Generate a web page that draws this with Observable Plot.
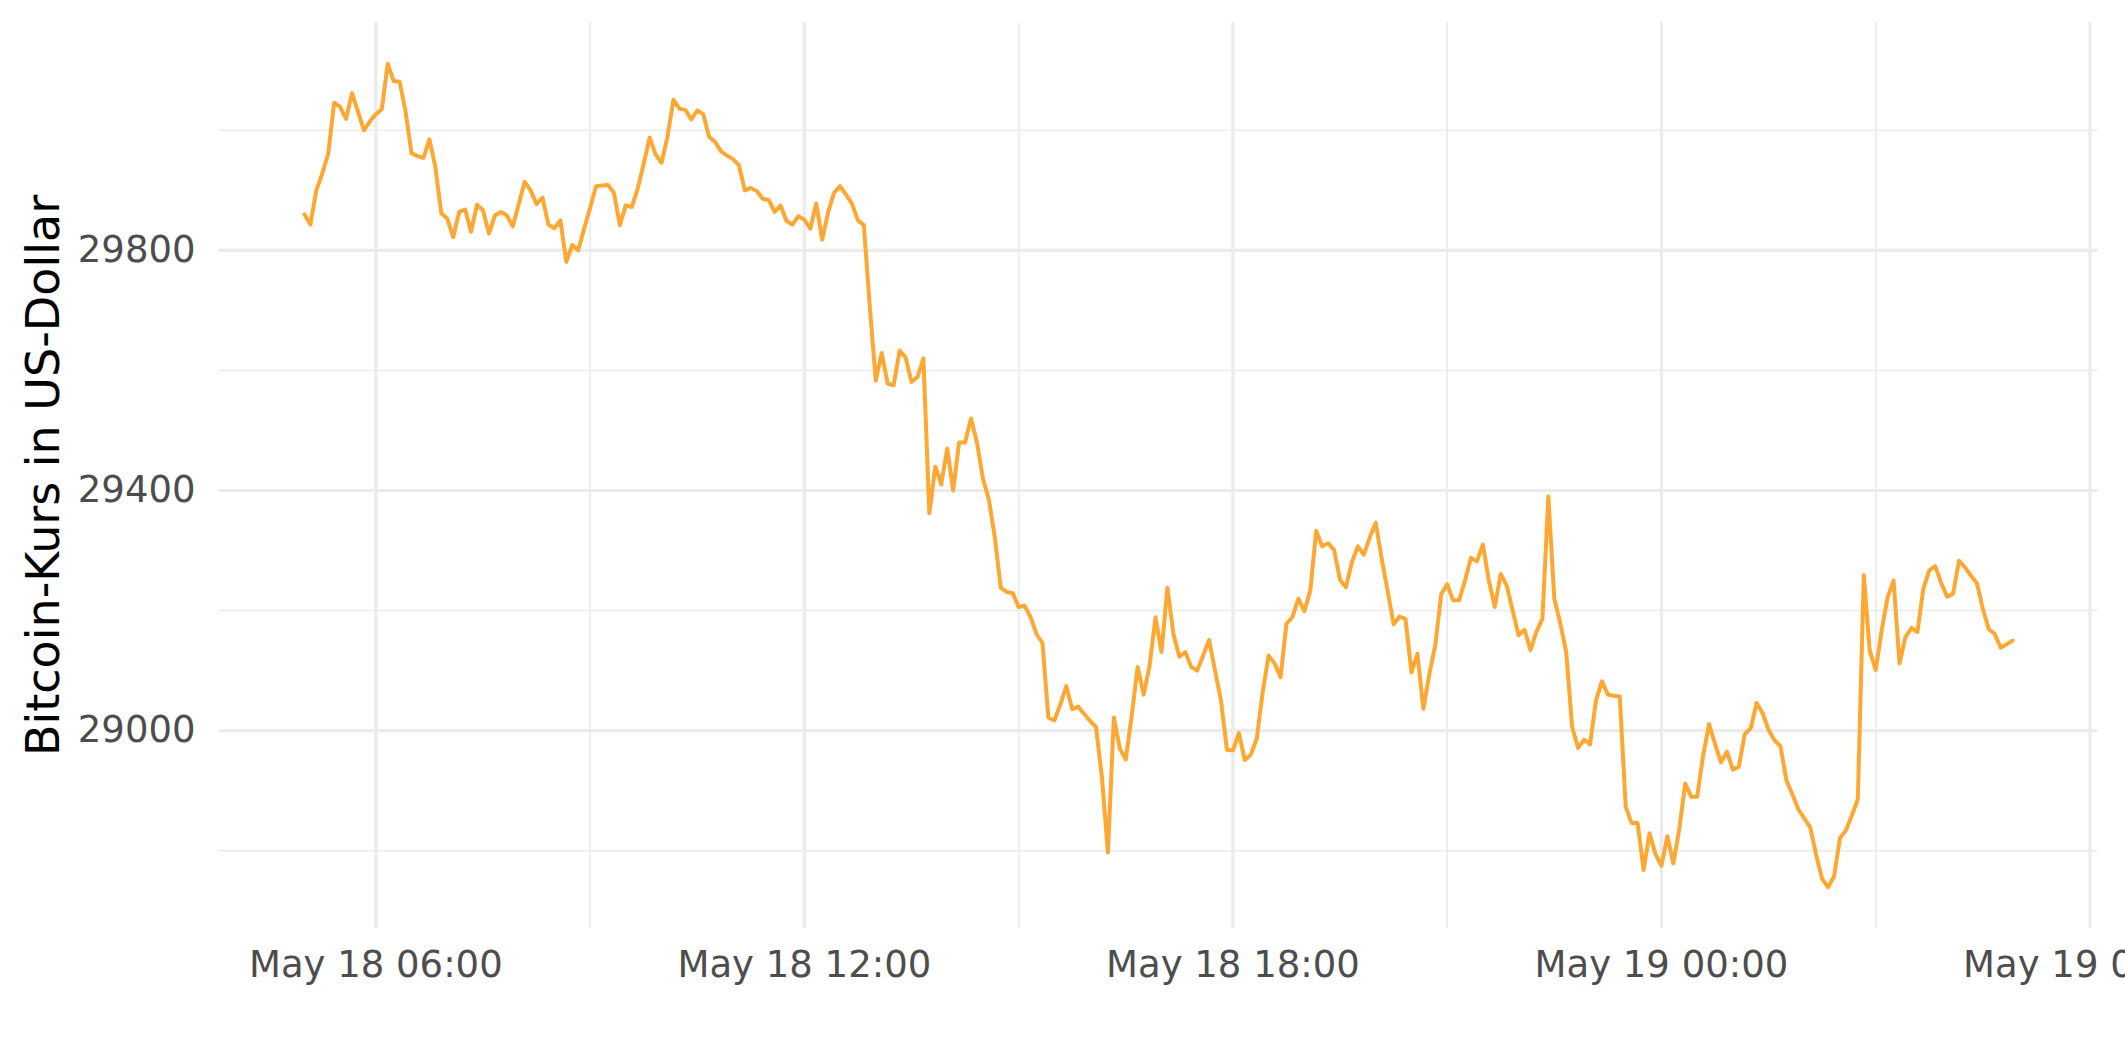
<!DOCTYPE html>
<html>
<head>
<meta charset="utf-8">
<script src="https://cdn.jsdelivr.net/npm/d3@7"></script>
<script src="https://cdn.jsdelivr.net/npm/@observablehq/plot@0.6"></script>
<style>
  html, body { margin: 0; padding: 0; background: #ffffff; overflow: hidden; }
</style>
</head>
<body>
<div id="chart"></div>
<script>
// ---- data ----
const startTime = "2022-05-18T05:00:00Z";
const stepMinutes = 5;
const prices = [
  29860, 29843, 29900, 29928, 29961, 30046, 30039, 30019, 30062, 30031,
  30000, 30015, 30027, 30035, 30111, 30082, 30081, 30031, 29962, 29957,
  29954, 29985, 29939, 29862, 29853, 29822, 29864, 29868, 29831, 29876,
  29867, 29828, 29858, 29864, 29858, 29840, 29877, 29914, 29900, 29877,
  29888, 29843, 29837, 29850, 29781, 29809, 29800, 29836, 29871, 29907,
  29908, 29909, 29896, 29842, 29875, 29872, 29903, 29944, 29988, 29960,
  29946, 29989, 30051, 30036, 30034, 30018, 30033, 30027, 29989, 29981,
  29965, 29958, 29952, 29942, 29900, 29904, 29899, 29886, 29884, 29864,
  29875, 29849, 29843, 29857, 29851, 29836, 29878, 29818, 29864, 29896,
  29907, 29893, 29878, 29850, 29842, 29705, 29583, 29629, 29578, 29575,
  29633, 29622, 29581, 29589, 29620, 29362, 29440, 29410, 29470, 29400,
  29480, 29480, 29520, 29480, 29420, 29385, 29322, 29238, 29231, 29229,
  29206, 29208, 29189, 29161, 29146, 29022, 29017, 29043, 29074, 29036,
  29040, 29028, 29016, 29006, 28922, 28797, 29022, 28970, 28952, 29025,
  29106, 29060, 29108, 29189, 29131, 29238, 29161, 29123, 29131, 29106,
  29100, 29125, 29151, 29100, 29050, 28968, 28967, 28996, 28951, 28960,
  28986, 29064, 29125, 29112, 29089, 29178, 29189, 29220, 29199, 29233,
  29333, 29307, 29312, 29301, 29251, 29239, 29281, 29307, 29293, 29322,
  29346, 29286, 29233, 29177, 29190, 29186, 29097, 29128, 29036, 29094,
  29142, 29227, 29244, 29217, 29217, 29250, 29288, 29282, 29310, 29250,
  29206, 29261, 29242, 29200, 29159, 29168, 29134, 29165, 29186, 29390,
  29220, 29179, 29131, 29006, 28971, 28985, 28977, 29050, 29082, 29060,
  29058, 29057, 28873, 28846, 28846, 28768, 28829, 28794, 28775, 28824,
  28779, 28836, 28912, 28890, 28890, 28958, 29011, 28978, 28947, 28965,
  28935, 28940, 28994, 29004, 29046, 29029, 29001, 28984, 28974, 28917,
  28894, 28869, 28854, 28839, 28793, 28753, 28739, 28757, 28821, 28834,
  28859, 28886, 29259, 29133, 29101, 29167, 29222, 29250, 29112, 29156,
  29171, 29164, 29236, 29267, 29274, 29246, 29223, 29228, 29283, 29272,
  29258, 29246, 29203, 29169, 29161, 29138, 29144, 29150
];
const xMajorTicks = ["2022-05-18T06:00:00Z", "2022-05-18T12:00:00Z", "2022-05-18T18:00:00Z", "2022-05-19T00:00:00Z", "2022-05-19T06:00:00Z"];
const xMajorLabels = ["May 18 06:00", "May 18 12:00", "May 18 18:00", "May 19 00:00", "May 19 06:00"];
const xMinorTicks = ["2022-05-18T09:00:00Z", "2022-05-18T15:00:00Z", "2022-05-18T21:00:00Z", "2022-05-19T03:00:00Z"];
const yMajorTicks = [29000, 29400, 29800];
const yMinorTicks = [28800, 29200, 29600, 30000];
const yTitle = "Bitcoin-Kurs in US-Dollar";

// ---- build ----
const t0 = new Date(startTime);
const data = prices.map((p, i) => ({ time: new Date(+t0 + i * stepMinutes * 60000), price: p }));
const majorDates = xMajorTicks.map(s => new Date(s));
const minorDates = xMinorTicks.map(s => new Date(s));

// ggplot-style 5% expansion
const [xa, xb] = d3.extent(data, d => +d.time);
const xpad = (xb - xa) * 0.05;
const [ya, yb] = d3.extent(prices);
const ypad = (yb - ya) * 0.05;

const gridMinor = { stroke: "#ebebeb", strokeOpacity: 1, strokeWidth: 1.6 };
const gridMajor = { stroke: "#ebebeb", strokeOpacity: 1, strokeWidth: 3.2 };

const chart = Plot.plot({
  width: 2125,
  height: 1062,
  marginLeft: 218.5,
  marginRight: 27.5,
  marginTop: 22,
  marginBottom: 134,
  x: { type: "utc", domain: [new Date(xa - xpad), new Date(xb + xpad)] },
  y: { domain: [ya - ypad, yb + ypad] },
  style: { fontFamily: "DejaVu Sans", fontSize: "37px", color: "#4d4d4d", background: "#ffffff", overflow: "visible" },
  marks: [
    Plot.gridY(yMinorTicks, gridMinor),
    Plot.gridX(minorDates, gridMinor),
    Plot.gridY(yMajorTicks, gridMajor),
    Plot.gridX(majorDates, gridMajor),
    Plot.axisX(majorDates, {
      tickSize: 0,
      tickPadding: 22,
      label: null,
      tickFormat: d => xMajorLabels[majorDates.findIndex(m => +m === +d)]
    }),
    Plot.axisY(yMajorTicks, {
      tickSize: 0,
      tickPadding: 23.5,
      label: null,
      tickFormat: d => String(d)
    }),
    Plot.line(data, { x: "time", y: "price", stroke: "#FFA733", strokeWidth: 4, strokeLinejoin: "round" }),
    Plot.text([yTitle], {
      text: d => d,
      frameAnchor: "left",
      dx: -160.5,
      rotate: -90,
      lineAnchor: "bottom",
      textAnchor: "middle",
      fontSize: 46,
      fill: "#000000"
    })
  ]
});
document.getElementById("chart").appendChild(chart);
</script>
</body>
</html>
